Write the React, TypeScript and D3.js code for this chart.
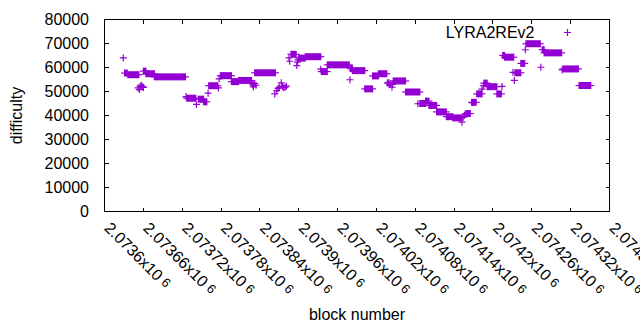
import { useEffect, useRef } from 'react';
import * as d3 from 'd3';

// runs of consecutive blocks with the same difficulty
const runStart = [
  2073631, 2073636, 2073660, 2073664, 2073677, 2073727, 2073745, 2073753, 2073761, 2073779,
  2073796, 2073807, 2073832, 2073888, 2073900, 2073910, 2073935, 2073944, 2073980, 2073983,
  2074002, 2074014, 2074023, 2074046, 2074065, 2074087, 2074096, 2074101, 2074113, 2074128,
  2074138, 2074158, 2074167, 2074175, 2074186, 2074191, 2074206, 2074215, 2074218, 2074234,
  2074243, 2074251, 2074276, 2074279, 2074308, 2074333,
];
const runEnd = [
  2073635, 2073653, 2073664, 2073677, 2073725, 2073741, 2073753, 2073758, 2073775, 2073796,
  2073807, 2073827, 2073864, 2073896, 2073910, 2073934, 2073944, 2073978, 2073983, 2074002,
  2074014, 2074023, 2074036, 2074065, 2074087, 2074096, 2074101, 2074113, 2074128, 2074138,
  2074152, 2074165, 2074174, 2074183, 2074191, 2074206, 2074213, 2074218, 2074232, 2074243,
  2074249, 2074273, 2074279, 2074306, 2074332, 2074351,
];
const runDiff = [
  57700, 57000, 58500, 57400, 56100, 47200, 46800, 45700, 52400, 56600,
  54100, 54600, 57800, 65500, 63900, 64500, 58300, 61100, 59500, 58700,
  51100, 56500, 57400, 54400, 49800, 45000, 46000, 44200, 41500, 39500,
  39000, 40800, 45500, 49000, 53500, 52000, 49000, 65000, 64300, 57800,
  61700, 69900, 67400, 66100, 59400, 52500,
];

// single blocks off the runs
const pointBlock = [
  2073629, 2073652, 2073654, 2073655, 2073657, 2073659, 2073660, 2073726, 2073742, 2073760,
  2073776, 2073777, 2073827, 2073829, 2073830, 2073832, 2073834, 2073863, 2073866, 2073868,
  2073870, 2073873, 2073875, 2073877, 2073879, 2073881, 2073885, 2073886, 2073897, 2073898,
  2073899, 2073934, 2073979, 2074037, 2074039, 2074040, 2074042, 2074044, 2074045, 2074084,
  2074152, 2074154, 2074156, 2074169, 2074183, 2074185, 2074214, 2074231, 2074233, 2074250,
  2074274, 2074307,
];
const pointDiff = [
  64000, 51500, 50800, 52200, 52600, 52000, 51700, 47900, 44600, 49300,
  51500, 55300, 53800, 52800, 51900, 53300, 52600, 49000, 50400, 51300,
  51800, 53600, 52000, 51600, 51800, 52200, 64000, 62600, 60800, 62200,
  63200, 59300, 54900, 53500, 53800, 52800, 53200, 51800, 53000, 44900,
  37200, 39300, 40200, 45300, 51000, 52400, 52100, 58000, 54600, 67400,
  60100, 59000,
];

const xTicks = [
  2073600, 2073660, 2073720, 2073780, 2073840, 2073900, 2073960,
  2074020, 2074080, 2074140, 2074200, 2074260, 2074320, 2074380,
];
const xTickLabels = [
  "2.0736", "2.07366", "2.07372", "2.07378", "2.07384", "2.0739", "2.07396",
  "2.07402", "2.07408", "2.07414", "2.0742", "2.07426", "2.07432", "2.07438",
];
const yTicks = [0, 10000, 20000, 30000, 40000, 50000, 60000, 70000, 80000];

const seriesName = "LYRA2REv2";

export default function App() {
  const svgRef = useRef<SVGSVGElement>(null);

  useEffect(() => {
    if (!svgRef.current) return;
    const svg = d3.select(svgRef.current);
    svg.selectAll("*").remove();

    const width = 640;
    const height = 330;
    const margin = { top: 19.5, right: 30.5, bottom: 118.5, left: 104.5 };
    const font = "'Liberation Sans', Arial, sans-serif";
    const color = "#9400d3";
    const ms = 3.5; // half size of the "+" mark
    const tick = 4;

    const x = d3.scaleLinear()
      .domain([xTicks[0], xTicks[xTicks.length - 1]])
      .range([margin.left, width - margin.right]);
    const y = d3.scaleLinear()
      .domain([0, 80000])
      .range([height - margin.bottom, margin.top]);

    const x0 = x.range()[0], x1 = x.range()[1];
    const y0 = y.range()[0], y1 = y.range()[1];

    svg.append("rect").attr("width", width).attr("height", height).attr("fill", "#fff");

    // border + ticks (gnuplot style: inward, mirrored)
    const axes = svg.append("g")
      .attr("stroke", "#000")
      .attr("stroke-width", 1)
      .attr("shape-rendering", "crispEdges");

    yTicks.forEach(v => {
      const py = Math.round(y(v) - 0.5) + 0.5;
      axes.append("line").attr("x1", x0).attr("x2", x0 + tick).attr("y1", py).attr("y2", py);
      axes.append("line").attr("x1", x1).attr("x2", x1 - tick).attr("y1", py).attr("y2", py);
    });
    xTicks.forEach(v => {
      const px = Math.round(x(v) - 0.5) + 0.5;
      axes.append("line").attr("x1", px).attr("x2", px).attr("y1", y0).attr("y2", y0 - tick);
      axes.append("line").attr("x1", px).attr("x2", px).attr("y1", y1).attr("y2", y1 + tick);
    });
    axes.append("rect")
      .attr("x", x0).attr("y", y1)
      .attr("width", x1 - x0).attr("height", y0 - y1)
      .attr("fill", "none");

    // y tick labels
    svg.append("g")
      .selectAll("text")
      .data(yTicks)
      .enter().append("text")
      .attr("x", 89)
      .attr("y", d => y(d))
      .attr("dy", "0.35em")
      .attr("text-anchor", "end")
      .style("font-family", font)
      .style("font-size", "16px")
      .text(d => String(d));

    // x tick labels, rotated, "x10^6"
    const xl = svg.append("g")
      .selectAll("text")
      .data(xTicks)
      .enter().append("text")
      .attr("transform", d => `translate(${x(d) - 1},229) rotate(45)`)
      .style("font-family", font)
      .style("font-size", "16px");
    xl.append("tspan").text((d, i) => `${xTickLabels[i]}x10`);
    xl.append("tspan")
      .attr("dx", 4)
      .attr("dy", -2)
      .style("font-size", "12.8px")
      .text("6");

    svg.append("text")
      .attr("x", (x0 + x1) / 2)
      .attr("y", 320)
      .attr("text-anchor", "middle")
      .style("font-family", font)
      .style("font-size", "16px")
      .text("block number");

    svg.append("text")
      .attr("transform", `translate(22,${(y0 + y1) / 2}) rotate(-90)`)
      .attr("text-anchor", "middle")
      .style("font-family", font)
      .style("font-size", "16px")
      .text("difficulty");

    // data
    const marks = svg.append("g");
    const runs = runStart.map((s, i) => ({ s, e: runEnd[i], v: runDiff[i] }));
    marks.selectAll(".run")
      .data(runs)
      .enter().append("rect")
      .attr("class", "run")
      .attr("x", d => x(d.s) - 0.6)
      .attr("width", d => x(d.e) - x(d.s) + 1.2)
      .attr("y", d => y(d.v) - ms)
      .attr("height", ms * 2)
      .attr("fill", color);
    marks.selectAll(".arm")
      .data(runs)
      .enter().append("line")
      .attr("class", "arm")
      .attr("x1", d => x(d.s) - ms)
      .attr("x2", d => x(d.e) + ms)
      .attr("y1", d => y(d.v))
      .attr("y2", d => y(d.v))
      .attr("stroke", color)
      .attr("stroke-width", 1.2);

    const plus = (px: number, py: number) =>
      `M${px - ms},${py}H${px + ms}M${px},${py - ms}V${py + ms}`;

    marks.selectAll(".dot")
      .data(pointBlock.map((b, i) => ({ b, v: pointDiff[i] })))
      .enter().append("path")
      .attr("class", "dot")
      .attr("d", d => plus(x(d.b), y(d.v)))
      .attr("fill", "none")
      .attr("stroke", color)
      .attr("stroke-width", 1.2);

    // key
    svg.append("text")
      .attr("x", 534.5)
      .attr("y", 37.5)
      .attr("text-anchor", "end")
      .style("font-family", font)
      .style("font-size", "16px")
      .text(seriesName);
    svg.append("path")
      .attr("d", plus(567.5, 32.5))
      .attr("fill", "none")
      .attr("stroke", color)
      .attr("stroke-width", 1.2);
  }, []);

  return (
    <svg
      ref={svgRef}
      width={640}
      height={330}
      style={{ position: "absolute", left: 0, top: 0 }}
    ></svg>
  );
}
